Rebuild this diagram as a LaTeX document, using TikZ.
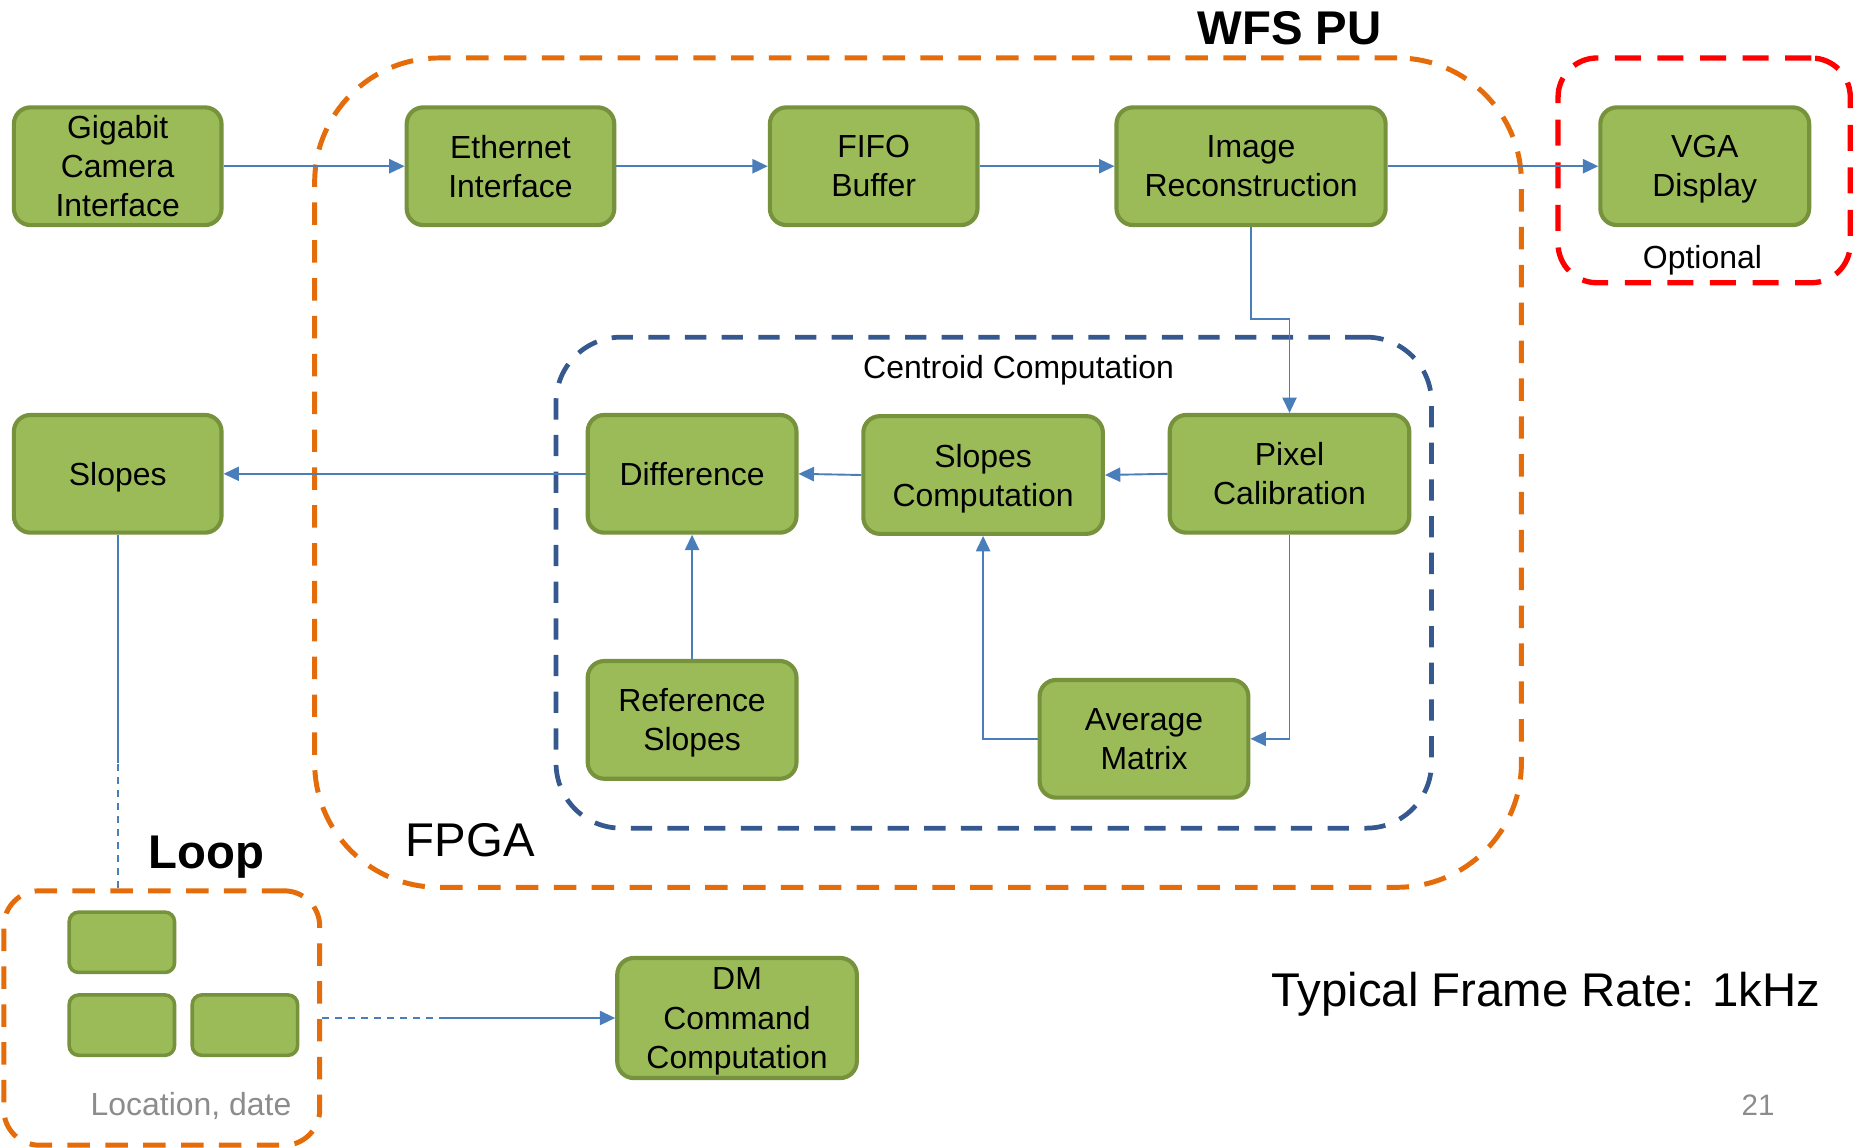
\documentclass[tikz,border=0pt]{standalone}
\usepackage{fontspec}
\setmainfont{Liberation Sans}
\usetikzlibrary{arrows.meta}
\definecolor{boxfill}{HTML}{9BBB59}
\definecolor{boxborder}{HTML}{76923C}
\definecolor{connblue}{HTML}{4A7EBB}
\definecolor{frameorange}{HTML}{E46C0A}
\definecolor{framered}{HTML}{FF0000}
\definecolor{frameblue}{HTML}{35598F}
\definecolor{labelgray}{HTML}{8C8C8C}
\begin{document}
\begin{tikzpicture}[x=1pt,y=-1pt,
  blk/.style={draw=boxborder, fill=boxfill, line width=3.5pt, rounded corners=14pt,
    align=center, inner sep=0pt, text depth=0pt, font=\fontsize{27}{33}\selectfont},
  miniblk/.style={draw=boxborder, fill=boxfill, line width=3pt, rounded corners=8pt,
    inner sep=0pt, minimum width=89pt, minimum height=51pt},
  orangeframe/.style={draw=frameorange, line width=4.2pt, dash pattern=on 19pt off 13pt, inner sep=0pt},
  redframe/.style={draw=framered, line width=4.5pt, dash pattern=on 22pt off 14pt, rounded corners=33pt, inner sep=0pt},
  blueframe/.style={draw=frameblue, line width=4pt, dash pattern=on 18pt off 13pt, rounded corners=55pt, inner sep=0pt},
  conn/.style={draw=connblue, line width=1.6pt, -{Triangle[length=13pt,width=12pt]}},
  connplain/.style={draw=connblue, line width=1.6pt},
  conndash/.style={draw=connblue, line width=1.6pt, dash pattern=on 6pt off 5pt},
  lbl/.style={inner sep=0pt, anchor=base, font=\fontsize{27}{33}\selectfont},
  biglbl/.style={inner sep=0pt, anchor=base, font=\fontsize{40}{48}\selectfont},
  boldlbl/.style={inner sep=0pt, anchor=base, font=\fontsize{40}{48}\selectfont\bfseries}
]
\useasboundingbox (0,0) rectangle (1568,970);

% containers
\node[orangeframe, rounded corners=105pt, minimum width=1020pt, minimum height=701pt] (wfs) at (776,399.5) {};
\node[redframe, minimum width=247pt, minimum height=190pt] (opt) at (1440.5,144) {};
\node[blueframe, minimum width=740pt, minimum height=415pt] (cent) at (840,492.5) {};
\node[orangeframe, rounded corners=30pt, minimum width=267pt, minimum height=215pt] (loop) at (136.75,860.5) {};

% labels
\node[boldlbl] (wfslbl) at (1090,38) {WFS PU};
\node[lbl] (optlbl) at (1439,227) {Optional};
\node[lbl] (centlbl) at (861,320) {Centroid Computation};
\node[biglbl] (fpgalbl) at (397.5,724) {FPGA};
\node[boldlbl] (looplbl) at (174.5,734) {Loop};
\node[lbl, text=labelgray] (loclbl) at (161.5,943) {Location, date};
\node[biglbl] (ratelbl) at (1306.5,851) {Typical Frame Rate: 1kHz};
\node[lbl, text=labelgray, font=\fontsize{25}{30}\selectfont] (pagelbl) at (1486,943) {21};

% blocks
\node[blk, minimum width=175.5pt, minimum height=99.5pt] (gig) at (99.5,140.5) {Gigabit\\Camera\\Interface};
\node[blk, minimum width=175.5pt, minimum height=99.5pt] (eth) at (431.5,140.5) {Ethernet\\Interface};
\node[blk, minimum width=175.5pt, minimum height=99.5pt] (fifo) at (738.5,140.5) {FIFO\\Buffer};
\node[blk, minimum width=227.5pt, minimum height=99.5pt] (img) at (1057.5,140.5) {Image\\Reconstruction};
\node[blk, minimum width=176.5pt, minimum height=99.5pt] (vga) at (1441,140.5) {VGA\\Display};
\node[blk, minimum width=175.5pt, minimum height=99.5pt] (slopes) at (99.5,400.5) {Slopes};
\node[blk, minimum width=176.5pt, minimum height=99.5pt] (diff) at (585,400.5) {Difference};
\node[blk, minimum width=202.5pt, minimum height=99.5pt] (sc) at (831,401.5) {Slopes\\Computation};
\node[blk, minimum width=202.5pt, minimum height=99.5pt] (pix) at (1090,400.5) {Pixel\\Calibration};
\node[blk, minimum width=176.5pt, minimum height=99.5pt] (ref) at (585,608.5) {Reference\\Slopes};
\node[blk, minimum width=176.5pt, minimum height=99.5pt] (avg) at (967,624.5) {Average\\Matrix};
\node[blk, minimum width=202.5pt, minimum height=101.5pt] (dm) at (623,860.5) {DM\\Command\\Computation};

\node[miniblk] (m1) at (103,796.5) {};
\node[miniblk] (m2) at (103,866.5) {};
\node[miniblk] (m3) at (207,866.5) {};

% connectors
\coordinate (imgbend) at (1057.5,270);
\coordinate (slopessolidend) at (99.5,645);
\coordinate (slopesdashstart) at (99.5,558);
\coordinate (loopdash) at (371,860.5);

\draw[conn] (gig.east) -- (eth.west);
\draw[conn] (eth.east) -- (fifo.west);
\draw[conn] (fifo.east) -- (img.west);
\draw[conn] (img.east) -- (vga.west);
\draw[conn] (img.south) -- (imgbend) -| (pix.north);
\draw[conn] (pix.west) -- (sc.east);
\draw[conn] (sc.west) -- (diff.east);
\draw[conn] (diff.west) -- (slopes.east);
\draw[conn] (ref.north) -- (diff.south);
\draw[conn] (pix.south) |- (avg.east);
\draw[conn] (avg.west) -| (sc.south);
\draw[connplain] (slopes.south) -- (slopessolidend);
\draw[conndash] (slopesdashstart) -- (slopes.south |- loop.north);
\draw[conndash] (loop.east) -- (loopdash);
\draw[conn] (loopdash) -- (dm.west);
\end{tikzpicture}
\end{document}
